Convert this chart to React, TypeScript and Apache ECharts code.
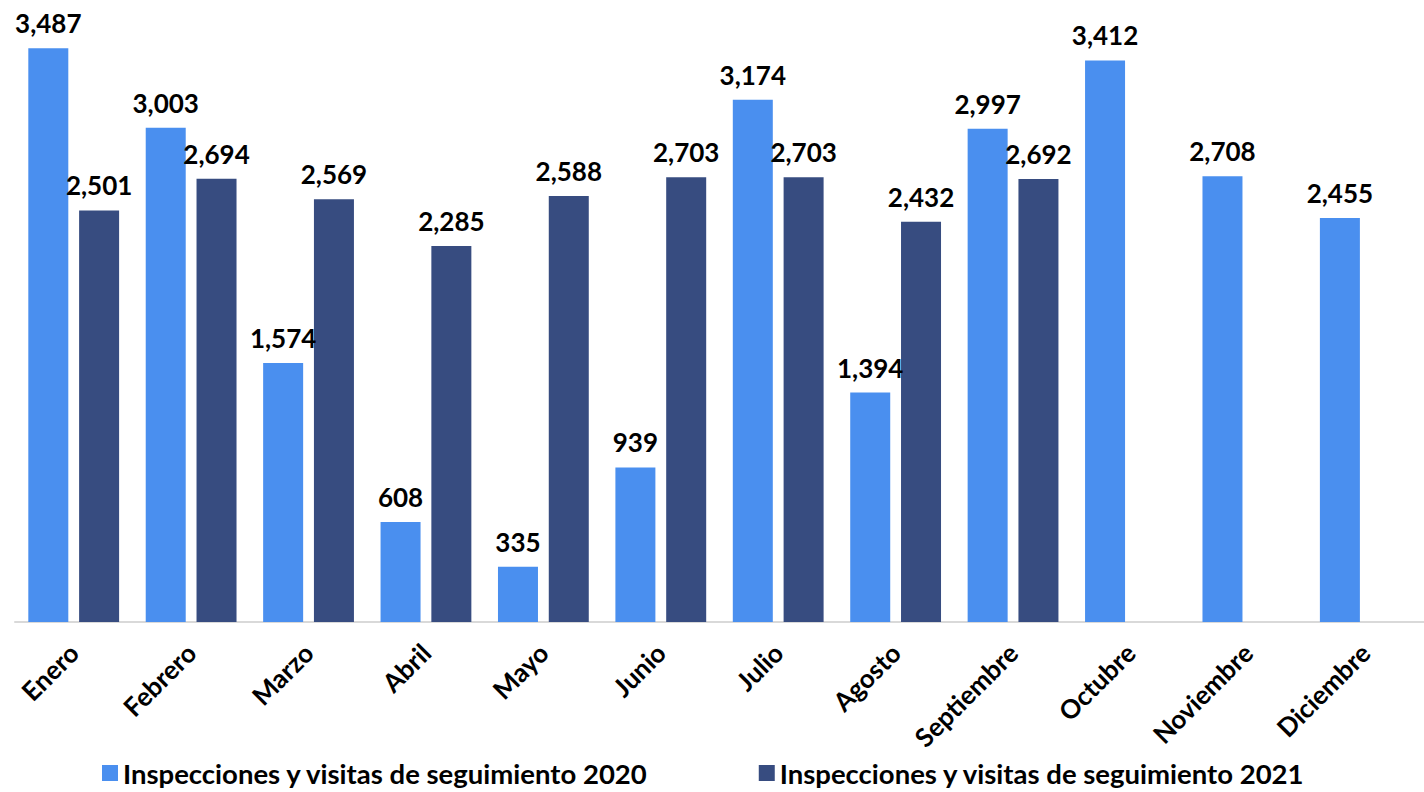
import React, { useEffect, useRef } from "react";
import * as echarts from "echarts";

const categories = ["Enero", "Febrero", "Marzo", "Abril", "Mayo", "Junio", "Julio", "Agosto", "Septiembre", "Octubre", "Noviembre", "Diciembre"];
const series2020 = [3487, 3003, 1574, 608, 335, 939, 3174, 1394, 2997, 3412, 2708, 2455];
const series2021: (number | null)[] = [2501, 2694, 2569, 2285, 2588, 2703, 2703, 2432, 2692, null, null, null];
const name2020 = "Inspecciones y visitas de seguimiento 2020";
const name2021 = "Inspecciones y visitas de seguimiento 2021";

const FONT = "Lato";

export default function App() {
  const ref = useRef<HTMLDivElement>(null);
  useEffect(() => {
    if (!ref.current) return;
    const chart = echarts.init(ref.current, null, { renderer: "svg" });
    const label = {
      show: true,
      position: "top" as const,
      distance: 12,
      fontFamily: FONT,
      fontWeight: "bold" as const,
      fontSize: 26,
      color: "#000",
      formatter: (p: any) => (p.value == null ? "" : Number(p.value).toLocaleString("en-US")),
    };
    chart.setOption({
      animation: false,
      backgroundColor: "#fff",
      grid: { left: 15, right: 0, top: 46, bottom: 170, containLabel: false },
      legend: {
        bottom: 0,
        left: 97,
        itemWidth: 16,
        itemHeight: 16,
        itemGap: 110,
        icon: "rect",
        textStyle: { fontFamily: FONT, fontWeight: "bold", fontSize: 27.5, color: "#000" },
        data: [name2020, name2021],
      },
      xAxis: {
        type: "category",
        data: categories,
        axisLine: { show: true, lineStyle: { color: "#d9d9d9", width: 2 } },
        axisTick: { show: false },
        axisLabel: {
          rotate: 45,
          interval: 0,
          margin: 26,
          fontFamily: FONT,
          fontWeight: "bold",
          fontSize: 26,
          color: "#000",
        },
      },
      yAxis: {
        type: "value",
        min: 0,
        max: 3500,
        show: false,
        splitLine: { show: false },
      },
      series: [
        {
          name: name2020,
          type: "bar",
          data: series2020,
          barWidth: 40,
          barGap: "27%",
          itemStyle: { color: "#4a8fef" },
          label,
        },
        {
          name: name2021,
          type: "bar",
          data: series2021,
          barWidth: 40,
          itemStyle: { color: "#374c80" },
          label,
        },
      ],
    });
    return () => chart.dispose();
  }, []);
  return <div ref={ref} style={{ position: "fixed", left: 0, top: 0, width: 1424, height: 792 }} />;
}
